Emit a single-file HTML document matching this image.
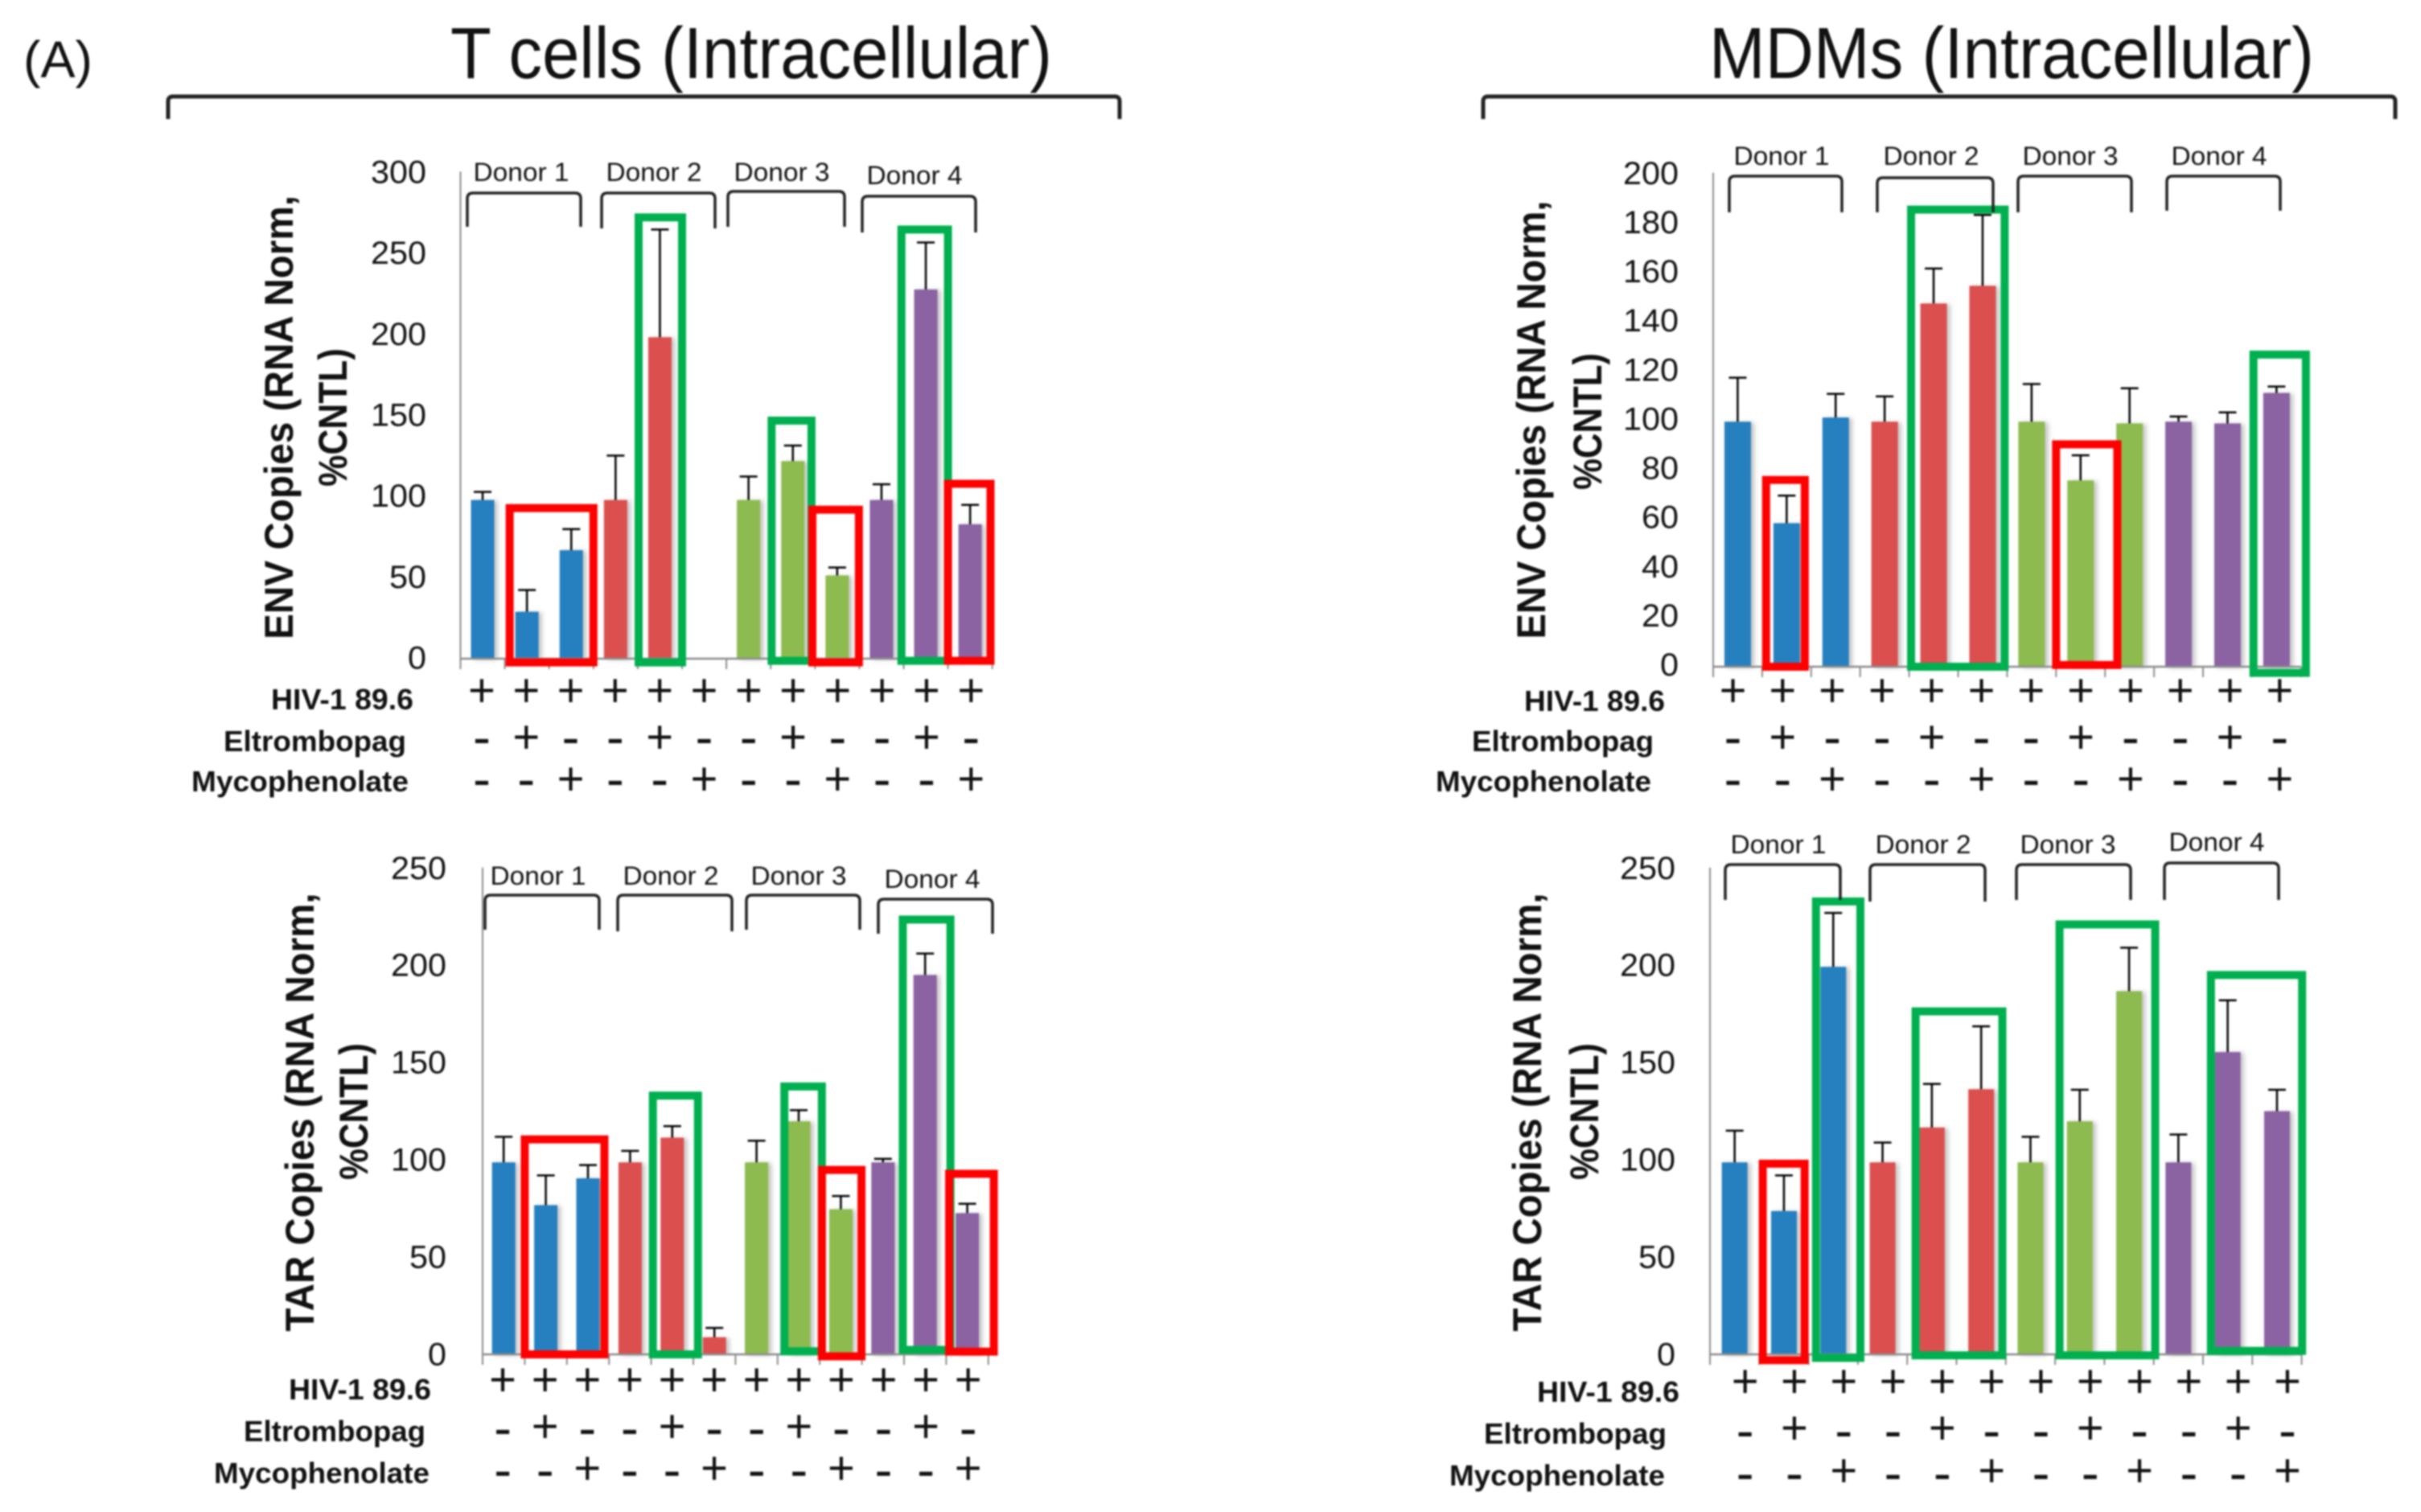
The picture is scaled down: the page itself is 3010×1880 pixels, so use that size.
<!DOCTYPE html>
<html>
<head>
<meta charset="utf-8">
<title>T cells and MDMs intracellular HIV RNA copies</title>
<style>
html,body{margin:0;padding:0;background:#fff;width:3010px;height:1880px;overflow:hidden}
svg{display:block;position:absolute;left:0;top:0}
text{font-family:"Liberation Sans",sans-serif;fill:#111}
#root{filter:blur(1px)}
</style>
</head>
<body>
<svg id="figure" width="3010" height="1880" viewBox="0 0 3010 1880" xmlns="http://www.w3.org/2000/svg">
<defs>
<filter id="barShadow" x="-40%" y="-5%" width="190%" height="110%">
<feDropShadow dx="4" dy="1" stdDeviation="3" flood-color="#777" flood-opacity="0.45"/>
</filter>
</defs>
<g id="root">
<text x="29" y="96" font-size="64" textLength="86" lengthAdjust="spacingAndGlyphs">(A)</text>
<text x="560" y="97" font-size="90" textLength="748" lengthAdjust="spacingAndGlyphs">T cells (Intracellular)</text>
<text x="2125" y="97" font-size="90" textLength="752" lengthAdjust="spacingAndGlyphs">MDMs (Intracellular)</text>
<path d="M209 148 V126 Q209 120 215 120 H1386 Q1392 120 1392 126 V148" fill="none" stroke="#222" stroke-width="5"/>
<path d="M1844 148 V126 Q1844 120 1850 120 H2972 Q2978 120 2978 126 V148" fill="none" stroke="#222" stroke-width="5"/>
</g>
</svg>
<script>
// Shared category definitions
const categories = ['D1 control','D1 Eltrombopag','D1 Mycophenolate','D2 control','D2 Eltrombopag','D2 Mycophenolate','D3 control','D3 Eltrombopag','D3 Mycophenolate','D4 control','D4 Eltrombopag','D4 Mycophenolate'];
const donorIndex = [0,0,0,1,1,1,2,2,2,3,3,3];
const donorNames = ['Donor 1','Donor 2','Donor 3','Donor 4'];
const hivSigns = ['+','+','+','+','+','+','+','+','+','+','+','+'];
const eltrombopagSigns = ['-','+','-','-','+','-','-','+','-','-','+','-'];
const mycophenolateSigns = ['-','-','+','-','-','+','-','-','+','-','-','+'];
const treatmentNames = ['HIV-1 89.6','Eltrombopag','Mycophenolate'];

// Tick labels
const ticksEnvT = [0,50,100,150,200,250,300];
const ticksEnvM = [0,20,40,60,80,100,120,140,160,180,200];
const ticksTarT = [0,50,100,150,200,250];
const ticksTarM = [0,50,100,150,200,250];

// T cells ENV
const envTMeans = [98,29,67,98,198.5,0,98,122,51.4,98,228,83];
const envTErrorTops = [103,42.4,80,125.4,265,0,112.5,131.6,56.3,107.7,257,95];
// MDM ENV
const envMMeans = [99.7,58.4,101.4,99.7,147.8,155,99.7,75.8,99,99.7,99,111.4];
const envMErrorTops = [117.6,69.6,111,110,162,183.8,115,86,113.3,101.8,103.5,114];
// T cells TAR
const tarTMeans = [98.7,76.7,90.5,98.7,111.4,8.8,98.7,119.8,74.6,98.7,195,72.6];
const tarTErrorTops = [111.8,92,97.3,104.6,117.3,13.6,109.8,125.5,81.4,100.5,206,77.4];
// MDM TAR
const tarMMeans = [98.7,73.7,199.2,98.7,116.6,136.3,98.7,119.8,186.7,98.7,155.4,125];
const tarMErrorTops = [115,92,226.9,108.9,139,168.6,111.8,136,209,113,182,136];

// Highlight boxes: [from category, to category, top value, bottom value, colour key]
const envTHighlights = [[1.11,3,93,-2.3,'red'],[4.02,5,272.5,-2.3,'green'],[7.02,7.92,147,-1.3,'green'],[7.94,8.99,92,-2.3,'red'],[9.95,11,265,-1.3,'green'],[11,11.96,108,-1.3,'red']];
const envMHighlights = [[1.08,1.87,76,0,'red'],[4.04,5.95,186,0,'green'],[7.0,8.25,90.5,0.7,'red'],[11.03,12.1,127,-2.5,'green']];
const tarTHighlights = [[1,2.89,110.5,0,'red'],[4.04,5.11,133,0,'green'],[7.16,8.05,137.7,1.6,'green'],[8.05,8.99,94.8,-1,'red'],[9.97,11.1,223.5,2.3,'green'],[11.07,12.13,92.8,1.4,'red']];
const tarMHighlights = [[1.07,1.92,98,-3,'red'],[2.15,3.05,232.8,-1.8,'green'],[4.17,5.93,176.3,-0.5,'green'],[7.09,9.03,221,-0.5,'green'],[10.16,12.01,195,1.8,'green']];

const palette = ['#2680bf','#dc5050','#8dbb4f','#8b64a3'];
const boxColors = {red:'#ff0000',green:'#00b050'};
const NS = 'http://www.w3.org/2000/svg';
const root = document.getElementById('root');

function make(tag, attrs, parent, content) {
  const node = document.createElementNS(NS, tag);
  for (const k in attrs) node.setAttribute(k, attrs[k]);
  if (content !== undefined) node.textContent = content;
  parent.appendChild(node);
  return node;
}

function drawPanel(p) {
  const yOf = v => p.y0 - v * p.pxPerUnit;
  const xEdge = c => p.x0 + c * p.catW;
  const xMid = i => xEdge(i + 0.5);
  const maxTick = p.ticks[p.ticks.length - 1];

  const g = make('g', {}, root);
  
  

  // y axis and tick labels
  const yAxis = make('line', {x1:p.x0, x2:p.x0, y1:yOf(maxTick) + p.tickDy, y2:p.y0, stroke:'#8c8c8c', 'stroke-width':2}, g);
  
  
  p.ticks.forEach(t => {
    const s = String(t);
    const label = make('text', {x:p.tickRight - s.length * 23, y:yOf(t) + 14 + p.tickDy, 'font-size':40, textLength:s.length * 23, lengthAdjust:'spacingAndGlyphs'}, g, s);
    
    
  });

  // y title
  p.titleLines.forEach(line => {
    const title = make('text', {
      transform:'translate(' + line.x + ',' + line.cy + ') rotate(-90)',
      'text-anchor':'middle', 'font-size':50, 'font-weight':'bold',
      textLength:line.len, lengthAdjust:'spacingAndGlyphs'
    }, g, line.text);
    
    
  });

  // bars
  categories.forEach((cat, i) => {
    const v = p.means[i];
    if (v <= 0) return;
    const bar = make('rect', {x:xMid(i) - p.barW / 2, y:yOf(v), width:p.barW, height:p.y0 - yOf(v), fill:palette[donorIndex[i]], filter:'url(#barShadow)'}, g);
    
    
  });

  // x axis and ticks
  const xAxis = make('line', {x1:p.x0, x2:xEdge(categories.length), y1:p.y0, y2:p.y0, stroke:'#8c8c8c', 'stroke-width':2.5}, g);
  
  
  for (let c = 0; c <= categories.length; c++) {
    const tick = make('line', {x1:xEdge(c), x2:xEdge(c), y1:p.y0, y2:p.y0 + 13, stroke:'#8c8c8c', 'stroke-width':2}, g);
    
    
  }

  // error bars
  categories.forEach((cat, i) => {
    const top = p.errorTops[i];
    if (top <= 0) return;
    const stem = make('line', {x1:xMid(i), x2:xMid(i), y1:yOf(p.means[i]), y2:yOf(top), stroke:'#000', 'stroke-width':2.5}, g);
    
    
    const cap = make('line', {x1:xMid(i) - 11, x2:xMid(i) + 11, y1:yOf(top), y2:yOf(top), stroke:'#000', 'stroke-width':2.5}, g);
    
    
  });

  // highlight boxes
  p.highlights.forEach(h => {
    const box = make('rect', {x:xEdge(h[0]), y:yOf(h[2]), width:xEdge(h[1]) - xEdge(h[0]), height:yOf(h[3]) - yOf(h[2]), fill:'none', stroke:boxColors[h[4]], 'stroke-width':10}, g);
    
    
  });

  // donor brackets and labels
  p.brackets.forEach((b, i) => {
    const x1 = b[0], x2 = b[1], t = b[2], bot = b[3];
    const br = make('path', {d:'M' + x1 + ' ' + bot + ' V' + (t + 7) + ' Q' + x1 + ' ' + t + ' ' + (x1 + 7) + ' ' + t + ' H' + (x2 - 7) + ' Q' + x2 + ' ' + t + ' ' + x2 + ' ' + (t + 7) + ' V' + bot, fill:'none', stroke:'#222', 'stroke-width':3.5}, g);
    
    
    const dl = make('text', {x:b[4], y:b[5], 'text-anchor':'middle', 'font-size':32, textLength:119, lengthAdjust:'spacingAndGlyphs'}, g, donorNames[i]);
    
    
  });

  // treatment rows
  const rows = [hivSigns, eltrombopagSigns, mycophenolateSigns];
  rows.forEach((signs, r) => {
    const rl = p.rowLabels[r];
    const name = make('text', {x:rl[0], y:rl[2], 'font-size':36, 'font-weight':'bold', textLength:rl[1] - rl[0], lengthAdjust:'spacingAndGlyphs'}, g, treatmentNames[r]);
    
    
    signs.forEach((s, i) => {
      const plus = s === '+';
      const size = plus ? 58 : 66;
      const base = p.rowY[r] + (plus ? 17 : 18 + p.minusDy);
      const sx = xMid(i) + p.signDx + (i - 5.5) * p.signStretch;
      const sign = make('text', {x:sx, y:base, 'text-anchor':'middle', 'font-size':size}, g, s);
      
      
    });
  });
}

drawPanel({
  name:'t-cells-env', x0:572.5, catW:55.1, y0:819, pxPerUnit:2.0136, barW:29, ticks:ticksEnvT, tickRight:530, tickDy:-1.5,
  means:envTMeans, errorTops:envTErrorTops, highlights:envTHighlights, minusDy:2, signDx:0, signStretch:0.2,
  titleLines:[{text:'ENV Copies (RNA Norm,', x:364, cy:519, len:552},{text:'%CNTL)', x:431, cy:519, len:172}],
  brackets:[[581,722,240,282,648,225],[748,889,240,284,813,225],[905,1050,238,282,972,225],[1072,1213,244,289,1137,229]],
  rowLabels:[[337,514,882],[278,505,934],[238,508,984]], rowY:[861,919,971]
});
drawPanel({
  name:'mdms-env', x0:2130, catW:60.9, y0:829, pxPerUnit:3.056, barW:33, ticks:ticksEnvM, tickRight:2087, tickDy:-3,
  means:envMMeans, errorTops:envMErrorTops, highlights:envMHighlights, minusDy:2, signDx:-1, signStretch:0.9,
  titleLines:[{text:'ENV Copies (RNA Norm,', x:1921, cy:522, len:545},{text:'%CNTL)', x:1991, cy:524, len:170}],
  brackets:[[2150,2290,219,264,2215,205],[2334,2478,221,264,2401,205],[2509,2650,219,264,2574,205],[2694,2835,219,262,2759,205]],
  rowLabels:[[1895,2070,884],[1830,2056,934],[1785,2053,984]], rowY:[861,919,971]
});
drawPanel({
  name:'t-cells-tar', x0:600, catW:52.4, y0:1684, pxPerUnit:2.419, barW:29, ticks:ticksTarT, tickRight:555, tickDy:-0.5,
  means:tarTMeans, errorTops:tarTErrorTops, highlights:tarTHighlights, minusDy:4, signDx:0, signStretch:0.2,
  titleLines:[{text:'TAR Copies (RNA Norm,', x:390, cy:1383, len:545},{text:'%CNTL)', x:457, cy:1382, len:170}],
  brackets:[[603,745,1113,1156,669,1100],[768,910,1113,1158,834,1100],[928,1069,1113,1156,993,1100],[1092,1234,1118,1161,1159,1104]],
  rowLabels:[[359,536,1740],[303,529,1792],[266,534,1844]], rowY:[1718,1776,1828]
});
drawPanel({
  name:'mdms-tar', x0:2126, catW:61.3, y0:1684, pxPerUnit:2.419, barW:32, ticks:ticksTarM, tickRight:2083, tickDy:-0.5,
  means:tarMMeans, errorTops:tarMErrorTops, highlights:tarMHighlights, minusDy:5, signDx:13, signStretch:0,
  titleLines:[{text:'TAR Copies (RNA Norm,', x:1916, cy:1383, len:545},{text:'%CNTL)', x:1987, cy:1382, len:170}],
  brackets:[[2145,2288,1075,1119,2211,1061],[2325,2468,1075,1121,2391,1061],[2507,2649,1075,1119,2571,1061],[2691,2833,1073,1119,2756,1058]],
  rowLabels:[[1911,2088,1743],[1845,2072,1795],[1802,2070,1847]], rowY:[1720,1778,1831]
});
</script>
</body>
</html>
